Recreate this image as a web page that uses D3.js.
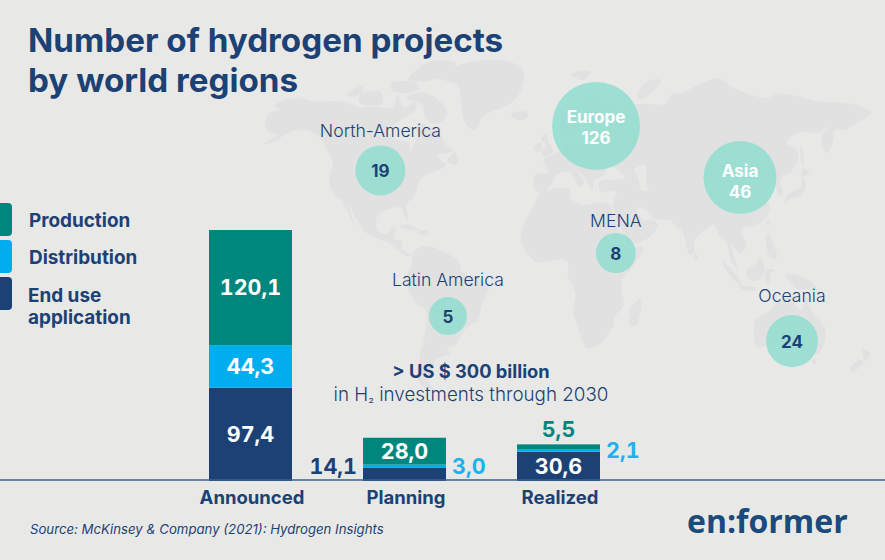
<!DOCTYPE html>
<html>
<head>
<meta charset="utf-8">
<script src="https://cdn.jsdelivr.net/npm/d3@7"></script>
<style>
body { margin: 0; background: #e8e9e6; }
svg { display: block; font-family: Inter, sans-serif; }
</style>
</head>
<body>
<svg id="chart" width="885" height="560"></svg>
<script>
// bars
var stages = ["Announced", "Planning", "Realized"];
var production = [120.1, 28.0, 5.5];
var distribution = [44.3, 3.0, 2.1];
var endUse = [97.4, 14.1, 30.6];

// bubbles, located by lon / lat
var regions = ["North-America", "Latin America", "MENA", "Oceania", "Europe", "Asia"];
var regionProjects = [19, 5, 8, 24, 126, 46];
var regionLon = [-96.3, -57.8, 36, 134.4, 26, 105.7];
var regionLat = [44.5, -20.3, 9.1, -31.8, 61.4, 41.8];

// rough world outlines, lon / lat
var land = [
  [[-168,65.5],[-162,67],[-166,68.5],[-156,71],[-141,69.7],[-128,70],[-115,68],[-108,68],[-95,68],[-94,72],[-88,68],[-82,69.5],[-81,67],[-87,64],[-94,60],[-92,57],[-82,55],[-80,51.5],[-79,54],[-77,57],[-78,62],[-70,61],[-65,59],[-60,54],[-56,52],[-65,50],[-60,46.5],[-66,44],[-70,43],[-74,40],[-76,35],[-81,31],[-80,25.5],[-82,27],[-84,30],[-90,29.5],[-97,27],[-97.5,21],[-95,18.5],[-91,18.5],[-90,21],[-87,21],[-88,16],[-83.5,15],[-83.5,11],[-80,9],[-77.5,8.5],[-80,7.5],[-85,10],[-92,14.5],[-97,16],[-105,20],[-109,25.5],[-113,31],[-110.5,23.5],[-115,30],[-117,33],[-121,35],[-124,40],[-124,48],[-130,54],[-135,58],[-145,60],[-152,59],[-158,56],[-165,54.5],[-158,58],[-165,60]],
  [[-80,73],[-70,71],[-62,66],[-66,62],[-74,64],[-78,69],[-88,71]],
  [[-117,72],[-105,73],[-102,69],[-115,69]],
  [[-90,77],[-80,83],[-62,82.5],[-75,77]],
  [[-125,72],[-118,75],[-116,73],[-120,71.5]],
  [[-100,76],[-85,76],[-82,74],[-97,73]],
  [[-59,48],[-55,51.5],[-53,47]],
  [[-85,22],[-80,23],[-74,20],[-78,20]],
  [[-74,19.5],[-69,19.5],[-69,18],[-74,18]],
  [[-73,78],[-60,82],[-30,83.5],[-18,80],[-20,72],[-28,68],[-40,65],[-44,60],[-50,62],[-54,68],[-58,75]],
  [[-24,65.5],[-15,66.3],[-14,64.5],[-20,63.5]],
  [[-77.5,8.5],[-75,11],[-71.5,12.3],[-62,10.5],[-52,5],[-50,0],[-44,-2.5],[-35,-6],[-39,-15],[-41,-22],[-48,-26],[-54,-34],[-58,-34.5],[-57,-38],[-65,-41],[-66,-46],[-69,-51],[-65,-55],[-72,-53.5],[-75,-48],[-73,-37],[-71,-30],[-70,-18],[-76,-14],[-81,-5],[-80,0],[-78,3]],
  [[-6,35.8],[10,37.3],[11,33.5],[20,31],[25,32],[33,31],[34,28],[37,21],[39,15.5],[43,12],[51,12],[47,4],[40,-3],[39,-8],[40.5,-15],[35,-21],[35,-24],[32,-28],[26,-34],[20,-35],[18,-33],[15,-26],[12,-17],[13.5,-10],[9,-1],[9.5,4],[5,6],[-4,5],[-8,4.5],[-13,8.5],[-17,14.5],[-16,21],[-13,27],[-9.5,31]],
  [[49.5,-12.5],[50,-16],[47,-25],[44,-24.5],[44,-17]],
  [[-9,37],[-9,43],[-1.5,43.5],[-4.5,48.5],[2,51],[8,54],[8.5,57],[10.5,56],[11,54],[19,54.5],[21.5,57.5],[24,59.5],[30,60],[23,60],[21,62],[25,65.5],[22,65.5],[17,61.5],[18,59],[14,55.5],[11,59],[5,59],[6,63],[14,68],[25,71],[32,70],[41,67],[35,64],[40,65],[45,68],[55,69],[68,69],[73,72],[81,73],[105,77.5],[114,74],[130,71],[140,72.5],[160,70],[180,69],[190,66],[179,62.5],[170,60],[164,60],[162,56],[157,51],[155.5,57],[163,62],[155,59],[142,59],[135,54.5],[141,52],[135,44],[130,42.5],[127.5,39.5],[129.5,36],[126.5,34.5],[126,37.5],[124,40],[121,39],[118,39],[122,37],[119,35],[122,31],[120,26],[113,22],[108,21.5],[106,19],[109,13],[105,9],[100.5,13.5],[103,5],[104,1.5],[100,6],[98,14],[94.5,16.5],[91,22.5],[87,21],[80,15],[79.8,10],[77.5,8],[73,20],[69,22.5],[66.5,25],[57,25.5],[56,27],[50,30],[48,29.5],[51,25],[56,25],[59.5,22.5],[55,17],[45,13],[43,13],[39,21],[35,28],[34.5,31.5],[36,36.5],[30,36],[27,37],[26.5,40],[29,41],[38,41],[41.5,42],[37,45],[33,46],[28,42],[24,40.5],[23,36.5],[19.5,41],[13,45.5],[18,40],[16,38],[10,44],[3,43],[0,39],[-5,36]],
  [[-5,50],[1,51.5],[-2,56],[-3,58.5],[-6,57],[-3,54],[-5,52]],
  [[-10,52],[-6,52],[-6,55],[-9,54.5]],
  [[12,79],[25,80],[20,77]],
  [[52,71],[57,71],[69,77],[60,76.5]],
  [[142,46],[143.5,50],[143,54],[142,52]],
  [[130,32],[135,34],[140,35],[142,39],[141,41.5],[139,38],[133,35.5]],
  [[140,42],[142,45.5],[145,43.5]],
  [[120,25],[122,25],[121,22]],
  [[120,18],[122,18],[124,13],[126,7],[122,7],[120,14]],
  [[109,1],[113,3],[117,7],[119,1],[115,-4],[110,-3]],
  [[95,5.5],[104,-2],[106,-6],[101,-3]],
  [[105,-6.5],[114,-7.5],[114,-8.5],[106,-7.7]],
  [[120,1],[125,1],[122,-1],[122.5,-5],[120,-5]],
  [[131,-1],[141,-2.5],[147,-6],[150,-10.5],[143,-8],[138,-8],[133,-4]],
  [[114,-22],[122,-18],[126,-14],[130,-12],[136,-12],[136,-15],[140,-17.5],[142,-11],[146,-19],[153,-26],[150,-37],[144,-38.5],[138,-35],[131,-31.5],[124,-33],[115,-34.5],[113,-26]],
  [[145,-41],[148,-41],[147,-43.5]],
  [[173,-35],[178,-38],[175,-41.5],[174,-38]],
  [[172,-41],[174,-42],[168,-47],[166.5,-45.5]],
  [[80,9.5],[82,7],[80.5,6]]
];
var caspian = [[47,45],[53,46.5],[53,40],[54,37],[50,37],[49,41]];

var navy = "#1c4175", teal = "#00877d", sky = "#00aeef", mint = "#9bded2";
var bg = "#e8e9e6", landColor = "#e0e1e0";

var svg = d3.select("#chart");

// the base map is stretched by latitude and narrows toward the pole
var latY = d3.scaleLinear()
  .domain([83, 71, 60, 37, 25, 0, -35, -45, -56])
  .range([62, 98, 130, 190, 220, 272, 348, 368, 392]);
var latK = d3.scaleLinear().domain([-60, 40, 60, 70, 84]).range([1, 1, 0.965, 0.925, 0.85]);
var lonX = d3.scaleLinear().domain([0, 100]).range([551.4, 730.4]);
function mapX(lon, lat) { return lonX(lon * latK(lat)); }

var outline = d3.line()
  .x(function(d) { return mapX(d[0], d[1]); })
  .y(function(d) { return latY(d[1]); })
  .curve(d3.curveCatmullRomClosed.alpha(0.5));

svg.append("g").selectAll("path")
  .data(land)
  .join("path")
  .attr("d", outline)
  .attr("fill", landColor);
svg.append("path").attr("d", outline(caspian)).attr("fill", bg);

// title
svg.append("g").selectAll("text")
  .data(["Number of hydrogen projects", "by world regions"])
  .join("text")
  .attr("x", 28)
  .attr("y", function(d, i) { return 52 + i * 40; })
  .attr("font-size", 33.2)
  .attr("font-weight", 700)
  .attr("fill", navy)
  .text(function(d) { return d; });

// bubbles
var radius = d3.scaleSqrt().domain([5, 8, 19, 24, 46, 126]).range([19, 20, 25, 26, 36.5, 44]);
var insideName = ["Europe", "Asia"];
var nameGap = { "North-America": 8, "Latin America": 11, "MENA": 6, "Oceania": 13 };

regions.forEach(function(name, i) {
  var cx = mapX(regionLon[i], regionLat[i]);
  var cy = latY(regionLat[i]);
  var r = radius(regionProjects[i]);
  var inside = insideName.indexOf(name) >= 0;
  var nudge = name == "Asia" ? 2.5 : 0;
  svg.append("circle")
    .attr("cx", cx).attr("cy", cy).attr("r", r)
    .attr("fill", mint).attr("fill-opacity", 0.97);
  svg.append("text")
    .attr("x", cx)
    .attr("y", inside ? cy - 3 + nudge : cy - r - nameGap[name])
    .attr("text-anchor", "middle")
    .attr("font-size", inside ? 17 : 17.6)
    .attr("font-weight", inside ? 700 : 300)
    .attr("fill", inside ? "#fff" : navy)
    .text(name);
  svg.append("text")
    .attr("x", cx)
    .attr("y", inside ? cy + 18 + nudge : cy + 6.5)
    .attr("text-anchor", "middle")
    .attr("font-size", 17)
    .attr("font-weight", 700)
    .attr("fill", inside ? "#fff" : navy)
    .text(regionProjects[i]);
});

// legend
var legendNames = ["Production", "Distribution", "End use"];
var legendColors = [teal, sky, navy];
legendNames.forEach(function(name, i) {
  svg.append("rect")
    .attr("x", -8).attr("y", 203 + i * 37)
    .attr("width", 20).attr("height", 33)
    .attr("rx", 4)
    .attr("fill", legendColors[i]);
  svg.append("text")
    .attr("x", i == 2 ? 28 : 29).attr("y", 227 + i * 37 + (i == 2 ? 1 : 0))
    .attr("font-size", 18.9).attr("font-weight", 700).attr("fill", navy)
    .text(name);
});
svg.append("text")
  .attr("x", 28).attr("y", 324)
  .attr("font-size", 18.9).attr("font-weight", 700).attr("fill", navy)
  .text("application");

// stacked bars
var rows = stages.map(function(s, i) {
  return { stage: s, endUse: endUse[i], distribution: distribution[i], production: production[i] };
});
var keys = ["endUse", "distribution", "production"];
var keyColor = d3.scaleOrdinal().domain(keys).range([navy, sky, teal]);
var stack = d3.stack().keys(keys)(rows);

var x = d3.scaleBand().domain(stages).range([209, 600]).paddingInner(0.461);
var y = d3.scaleLinear().domain([0, 261.8]).range([481, 230]);

svg.append("g").selectAll("g")
  .data(stack)
  .join("g")
  .attr("fill", function(d) { return keyColor(d.key); })
  .selectAll("rect")
  .data(function(d) { return d; })
  .join("rect")
  .attr("x", function(d) { return x(d.data.stage); })
  .attr("y", function(d) { return y(d[1]); })
  .attr("width", x.bandwidth())
  .attr("height", function(d) { return y(d[0]) - y(d[1]); });

// value labels: inside when the segment is tall enough, else beside it
var comma = d3.formatLocale({ decimal: ",", thousands: ".", grouping: [3], currency: ["", ""] }).format(".1f");
stack.forEach(function(layer) {
  layer.forEach(function(d) {
    var top = y(d[1]), bottom = y(d[0]);
    var left = x(d.data.stage), right = left + x.bandwidth();
    var mid = (left + right) / 2;
    var t = svg.append("text")
      .attr("font-size", 21.5)
      .attr("font-weight", 700)
      .style("font-variant-numeric", "tabular-nums")
      .text(comma(d.data[layer.key]));
    if (bottom - top >= 20) {
      t.attr("x", mid).attr("y", (top + bottom) / 2 + 7.5).attr("text-anchor", "middle").attr("fill", "#fff");
    } else if (layer.key == "distribution") {
      t.attr("x", right + 6).attr("y", (top + bottom) / 2 + 7.5).attr("fill", "#1fb1ec");
    } else if (layer.key == "production") {
      t.attr("x", mid).attr("y", top - 7).attr("text-anchor", "middle").attr("fill", teal);
    } else {
      t.attr("x", left - 6).attr("y", bottom - 7).attr("text-anchor", "end").attr("fill", navy);
    }
  });
});

// axis
svg.append("line")
  .attr("x1", 0).attr("x2", 885)
  .attr("y1", 480).attr("y2", 480)
  .attr("stroke", "#3b5f91").attr("stroke-width", 1.3);

var axis = svg.append("g")
  .attr("transform", "translate(1.5,481)")
  .call(d3.axisBottom(x).tickSize(0).tickPadding(10));
axis.select(".domain").remove();
axis.selectAll("text")
  .attr("font-family", "Inter, sans-serif")
  .attr("font-size", 18.5)
  .attr("font-weight", 700)
  .attr("fill", navy);

// investment note
svg.append("text")
  .attr("x", 471).attr("y", 378)
  .attr("text-anchor", "middle")
  .attr("font-size", 18.3).attr("font-weight", 700).attr("fill", navy)
  .text("> US $ 300 billion");
var note = svg.append("text")
  .attr("x", 471).attr("y", 401)
  .attr("text-anchor", "middle")
  .attr("font-size", 18.8).attr("font-weight", 300).attr("fill", navy);
note.append("tspan").text("in H");
note.append("tspan").attr("font-size", 13).text("₂");
note.append("tspan").text(" investments through 2030");

// source + logo
svg.append("text")
  .attr("x", 30).attr("y", 534)
  .attr("font-size", 13.2).attr("font-style", "italic").attr("fill", navy)
  .text("Source: McKinsey & Company (2021): Hydrogen Insights");
svg.append("text")
  .attr("x", 687).attr("y", 533)
  .attr("font-family", "'Open Sans', sans-serif")
  .attr("font-size", 32).attr("font-weight", 700).attr("fill", "#1b4a7c")
  .text("en:former");
</script>
</body>
</html>
